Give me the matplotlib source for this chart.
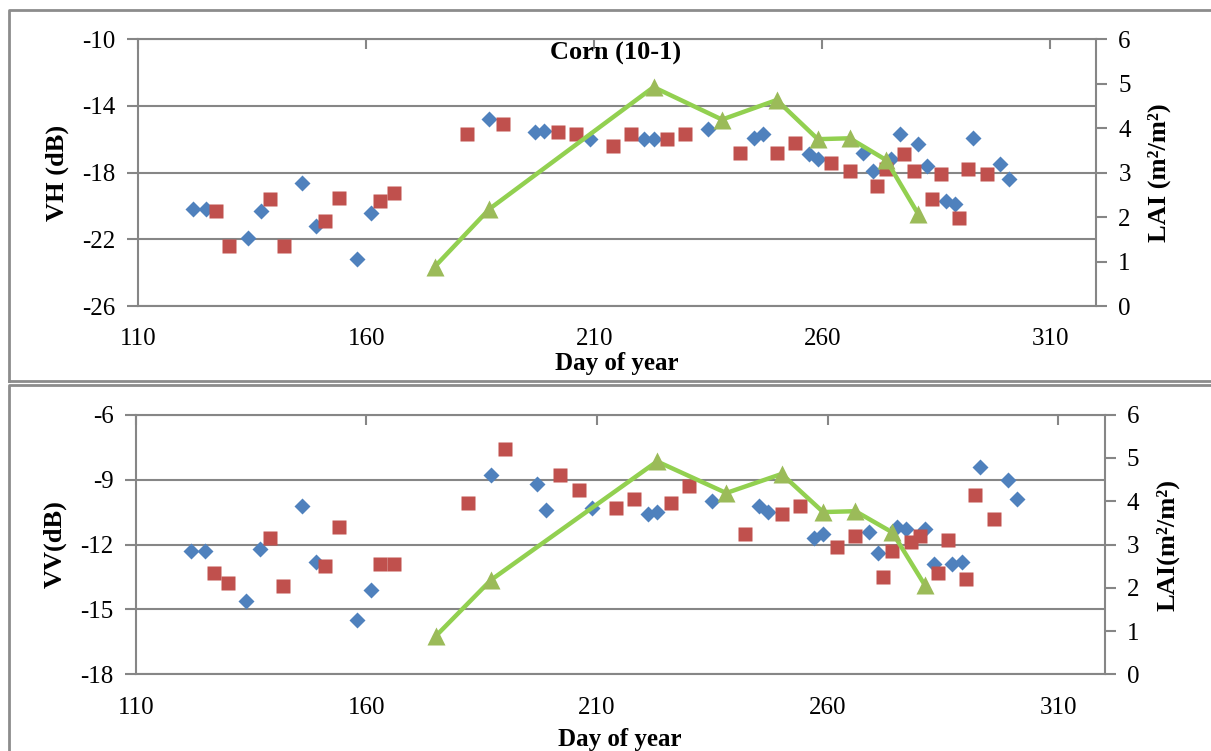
import matplotlib
matplotlib.use("Agg")
import matplotlib.pyplot as plt
from matplotlib.lines import Line2D

plt.rcParams['font.family'] = ['Liberation Serif', 'DejaVu Serif']
plt.rcParams['axes.unicode_minus'] = False

# day of year for each series
vh_days = [122, 125, 134, 137, 146, 149, 158, 161, 187, 197, 199, 209, 221, 223, 235,
           245, 247, 257, 259, 269, 271, 275, 277, 281, 283, 287, 289, 293, 299, 301]
red_days = [127, 130, 139, 142, 151, 154, 163, 166, 182, 190, 202, 206, 214, 218, 226,
            230, 242, 250, 254, 262, 266, 272, 274, 278, 280, 284, 286, 290, 292, 296]
lai_days = [175, 187, 223, 238, 250, 259, 266, 274, 281]

# VH backscatter (dB)
vh_blue = [-20.2, -20.2, -21.9, -20.3, -18.6, -21.2, -23.2, -20.4, -14.8, -15.6, -15.5,
           -16.0, -16.0, -16.0, -15.4, -15.9, -15.7, -16.9, -17.2, -16.8, -17.9, -17.2,
           -15.7, -16.3, -17.6, -19.7, -19.9, -15.9, -17.5, -18.4]
vh_red = [-20.3, -22.4, -19.6, -22.4, -20.9, -19.5, -19.7, -19.2, -15.7, -15.1, -15.6,
          -15.7, -16.4, -15.7, -16.0, -15.7, -16.8, -16.8, -16.2, -17.4, -17.9, -18.8,
          -17.8, -16.9, -17.9, -19.6, -18.1, -20.7, -17.8, -18.1]

# VV backscatter (dB)
vv_blue = [-12.3, -12.3, -14.6, -12.2, -10.2, -12.8, -15.5, -14.1, -8.8, -9.2, -10.4,
           -10.3, -10.6, -10.5, -10.0, -10.2, -10.5, -11.7, -11.5, -11.4, -12.4, -11.2,
           -11.3, -11.3, -12.9, -12.9, -12.8, -8.4, -9.0, -9.9]
vv_red = [-13.3, -13.8, -11.7, -13.9, -13.0, -11.2, -12.9, -12.9, -10.1, -7.6, -8.8,
          -9.5, -10.3, -9.9, -10.1, -9.3, -11.5, -10.6, -10.2, -12.1, -11.6, -13.5, -12.3,
          -11.9, -11.6, -13.3, -11.8, -13.6, -9.7, -10.8]

# leaf area index (m2/m2)
lai = [0.88, 2.18, 4.92, 4.19, 4.63, 3.75, 3.77, 3.28, 2.07]

x_ticks = [110, 160, 210, 260, 310]
vh_ticks = [-10, -14, -18, -22, -26]
vv_ticks = [-6, -9, -12, -15, -18]
lai_ticks = [0, 1, 2, 3, 4, 5, 6]

BLUE = '#4F81BD'
RED = '#C0504D'
GREEN_LINE = '#92D050'
GREEN_MARK = '#9BBB59'
GREY = '#868686'
FS = 18

fig = plt.figure(figsize=(12.11, 7.51), dpi=100)

# panel frames
for y0, y1 in [(10, 381), (385, 760)]:
    fig.add_artist(Line2D([9 / 1211, 9 / 1211, 1.01], [1 - y1 / 751, 1 - y0 / 751, 1 - y0 / 751],
                          transform=fig.transFigure, color='#8C8C8C', lw=2))
    fig.add_artist(Line2D([9 / 1211, 1.01], [1 - y1 / 751, 1 - y1 / 751],
                          transform=fig.transFigure, color='#8C8C8C', lw=2))


def panel(rect, blue, red, ylim, yticks, ylabel, rlabel, xpad, title=None):
    ax = fig.add_axes(rect)
    ax2 = ax.twinx()

    ax.plot(vh_days, blue, 'D', color=BLUE, ms=8, mec='none', zorder=3)
    ax.plot(red_days, red, 's', color=RED, ms=10.5, mec='none', zorder=3)
    ax2.plot(lai_days, lai, '-', color=GREEN_LINE, lw=3.2, zorder=2)
    ax2.plot(lai_days, lai, '^', color=GREEN_MARK, ms=13, mec='none', zorder=2)

    ax.set_xlim(110, 320)
    ax.set_xticks(x_ticks)
    ax.set_ylim(*ylim)
    ax.set_yticks(yticks)
    ax.grid(axis='y', color=GREY, lw=1.5)
    ax.set_axisbelow(True)
    ax2.set_ylim(0, 6)
    ax2.set_yticks(lai_ticks)

    for a in (ax, ax2):
        for s in a.spines.values():
            s.set_color(GREY)
            s.set_linewidth(1.5)
    ax.spines['right'].set_visible(False)
    ax2.spines['left'].set_visible(False)
    ax2.spines['top'].set_visible(False)
    ax2.spines['bottom'].set_visible(False)

    ax.tick_params(axis='x', bottom=False, top=True, direction='in', length=7, width=1.5,
                   color=GREY, labelbottom=True, labeltop=False, labelsize=FS, pad=16)
    ax.tick_params(axis='y', direction='out', length=8, width=1.5, color=GREY,
                   labelsize=FS, pad=8)
    ax2.tick_params(axis='y', direction='out', length=8, width=1.5, color=GREY,
                    labelsize=FS, pad=8)

    ax.set_xlabel('Day of year', fontsize=FS, fontweight='bold', labelpad=xpad)
    ax.set_ylabel(ylabel, fontsize=FS + 1, fontweight='bold', labelpad=10)
    ax2.set_ylabel(rlabel, fontsize=FS + 1, fontweight='bold', labelpad=12)
    if title:
        ax.text(0.498, 0.99, title, transform=ax.transAxes, ha='center', va='top',
                fontsize=FS + 1, fontweight='bold')
    return ax, ax2


panel([0.1140, 0.5925, 0.7911, 0.3555], vh_blue, vh_red, (-26, -10), vh_ticks,
      'VH (dB)', 'LAI (m²/m²)', 1, title='Corn (10-1)')
panel([0.1121, 0.1021, 0.8000, 0.3457], vv_blue, vv_red, (-18, -6), vv_ticks,
      'VV(dB)', 'LAI(m²/m²)', 7)

fig.savefig('out.png', dpi=100)
